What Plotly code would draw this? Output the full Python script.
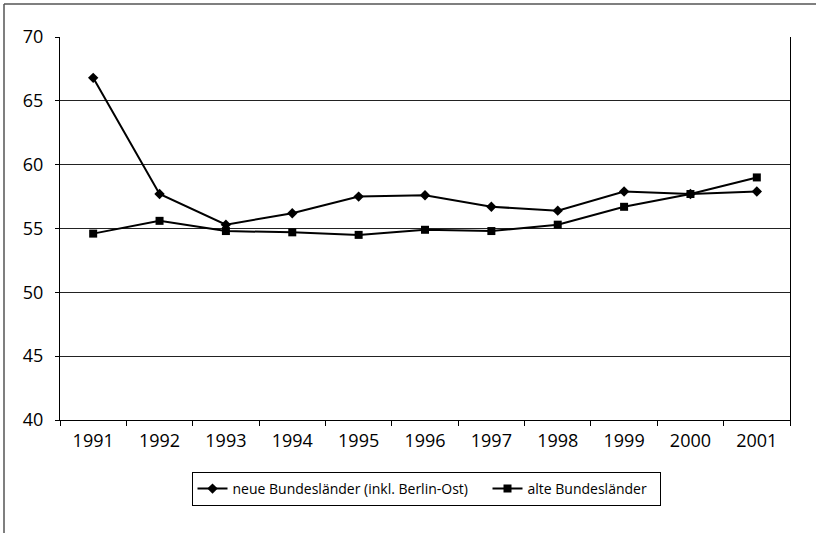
import plotly.graph_objects as go

years = ["1991", "1992", "1993", "1994", "1995", "1996", "1997", "1998", "1999", "2000", "2001"]
neue = [66.8, 57.7, 55.3, 56.2, 57.5, 57.6, 56.7, 56.4, 57.9, 57.7, 57.9]
alte = [54.6, 55.6, 54.8, 54.7, 54.5, 54.9, 54.8, 55.3, 56.7, 57.7, 59.0]
y_ticks = [40, 45, 50, 55, 60, 65, 70]
series_names = ["neue Bundesländer (inkl. Berlin-Ost)", "alte Bundesländer"]

W, H = 816, 533
L, R, T, B = 60, 790, 37, 420

FONT = "Open Sans"
PAD = "\u00a0" * 4

fig = go.Figure()
fig.add_trace(go.Scatter(
    x=years, y=neue, mode="lines+markers",
    name=series_names[0] + PAD,
    line=dict(color="black", width=2),
    marker=dict(symbol="diamond", size=8, color="black"),
))
fig.add_trace(go.Scatter(
    x=years, y=alte, mode="lines+markers",
    name=series_names[1] + "\u00a0\u00a0",
    line=dict(color="black", width=2),
    marker=dict(symbol="square", size=8, color="black"),
))

def px_x(p):
    return (p - L) / (R - L)

def px_y(p):
    return (B - p) / (B - T)

fig.update_layout(
    width=W, height=H,
    margin=dict(l=L, r=W - R, t=T, b=H - B, pad=0),
    paper_bgcolor="white", plot_bgcolor="white",
    font=dict(family=FONT, color="black"),
    showlegend=True,
    legend=dict(
        orientation="h",
        x=px_x(426), xanchor="center",
        y=px_y(472), yanchor="top",
        bordercolor="black", borderwidth=1,
        font=dict(family=FONT, size=14, color="black"),
        itemwidth=30,
    ),
    xaxis=dict(
        type="category",
        range=[-0.5, len(years) - 0.5],
        showgrid=False,
        showline=True, linecolor="black", linewidth=1,
        ticks="outside", ticklen=5, tickcolor="black",
        tickson="boundaries",
        tickfont=dict(family=FONT, size=18, color="black"),
        ticklabelstandoff=4,
        mirror=False,
    ),
    yaxis=dict(
        range=[40, 70],
        tickvals=y_ticks,
        showgrid=True, gridcolor="#222", gridwidth=1,
        showline=True, linecolor="black", linewidth=1,
        mirror=True,
        ticks="outside", ticklen=4, tickcolor="black",
        tickfont=dict(family=FONT, size=18, color="black"),
        ticklabelstandoff=8,
        zeroline=False,
    ),
    shapes=[
        dict(type="line", xref="paper", yref="paper",
             x0=px_x(4), x1=px_x(W + 5), y0=px_y(4), y1=px_y(4),
             line=dict(color="#555", width=1.5)),
        dict(type="line", xref="paper", yref="paper",
             x0=px_x(4), x1=px_x(4), y0=px_y(4), y1=px_y(H + 5),
             line=dict(color="#555", width=1.5)),
    ],
)

fig.write_html(
    "out.html",
    config={"displayModeBar": False},
    post_script="document.body.style.margin='0';document.body.style.overflow='hidden';",
)
